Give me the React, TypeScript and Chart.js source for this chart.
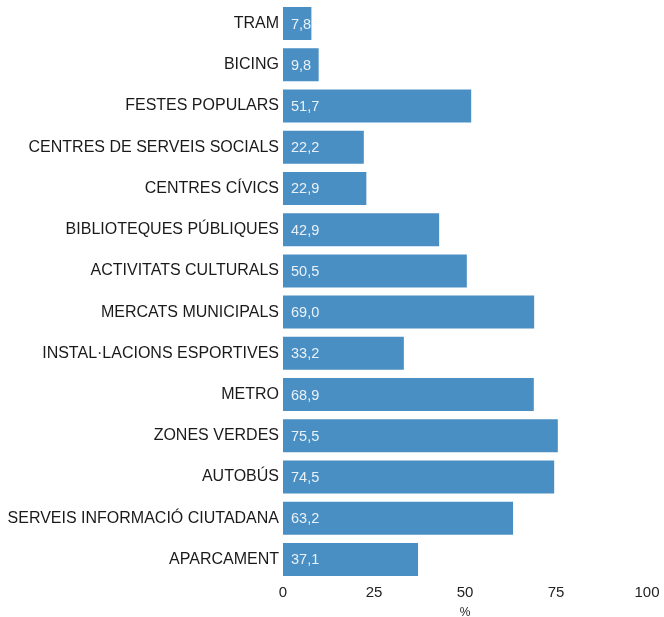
import React, { useEffect, useRef } from "react";
import { Chart, registerables } from "chart.js";

Chart.register(...registerables);

const categories = [
  "TRAM",
  "BICING",
  "FESTES POPULARS",
  "CENTRES DE SERVEIS SOCIALS",
  "CENTRES CÍVICS",
  "BIBLIOTEQUES PÚBLIQUES",
  "ACTIVITATS CULTURALS",
  "MERCATS MUNICIPALS",
  "INSTAL·LACIONS ESPORTIVES",
  "METRO",
  "ZONES VERDES",
  "AUTOBÚS",
  "SERVEIS INFORMACIÓ CIUTADANA",
  "APARCAMENT",
];
const values = [7.8, 9.8, 51.7, 22.2, 22.9, 42.9, 50.5, 69.0, 33.2, 68.9, 75.5, 74.5, 63.2, 37.1];
const xTicks = [0, 25, 50, 75, 100];

const FONT = "'Liberation Sans', Arial, Helvetica, sans-serif";

const valueLabels = {
  id: "valueLabels",
  afterDatasetsDraw(chart: any) {
    const ctx = chart.ctx;
    const meta = chart.getDatasetMeta(0);
    ctx.save();
    ctx.font = `14.5px ${FONT}`;
    ctx.fillStyle = "rgba(255,255,255,0.88)";
    ctx.textBaseline = "middle";
    ctx.textAlign = "left";
    meta.data.forEach((bar: any, i: number) => {
      const { x, y, base, height } = bar.getProps(["x", "y", "base", "height"], true);
      ctx.save();
      ctx.beginPath();
      ctx.rect(base, y - height / 2, x - base, height);
      ctx.clip();
      ctx.fillText(values[i].toFixed(1).replace(".", ","), base + 8, y + 1);
      ctx.restore();
    });
    ctx.restore();
  },
};

export default function App() {
  const ref = useRef<HTMLCanvasElement>(null);
  useEffect(() => {
    if (!ref.current) return;
    const chart = new Chart(ref.current, {
      type: "bar",
      data: {
        labels: categories,
        datasets: [
          {
            data: values,
            backgroundColor: "#4a8fc4",
            barPercentage: 0.8,
            categoryPercentage: 1,
          },
        ],
      },
      options: {
        indexAxis: "y",
        animation: false,
        responsive: false,
        maintainAspectRatio: false,
        layout: { padding: { top: 3, right: 17, left: 0, bottom: 0 } },
        plugins: { legend: { display: false }, tooltip: { enabled: false } },
        scales: {
          x: {
            min: 0,
            max: 100,
            afterBuildTicks(scale: any) {
              scale.ticks = xTicks.map((v) => ({ value: v }));
            },
            grid: { display: false, drawTicks: false },
            border: { display: false },
            ticks: { color: "#222", font: { family: FONT, size: 15 }, padding: 4 },
            title: {
              display: true,
              text: "%",
              color: "#222",
              font: { family: FONT, size: 12 },
              padding: { top: 3, bottom: -3 },
            },
            afterFit(scale: any) {
              scale.height = 37;
            },
          },
          y: {
            grid: { display: false, drawTicks: false },
            border: { display: false },
            ticks: { color: "#1a1a1a", font: { family: FONT, size: 16 }, padding: 4 },
            afterFit(scale: any) {
              scale.width = 283;
              scale.paddingTop = 0;
              scale.paddingBottom = 0;
            },
          },
        },
      },
      plugins: [valueLabels],
    });
    return () => chart.destroy();
  }, []);
  return (
    <div style={{ position: "absolute", left: 0, top: 0, width: 664, height: 617 }}>
      <canvas ref={ref} width={664} height={617} style={{ display: "block" }} />
    </div>
  );
}
